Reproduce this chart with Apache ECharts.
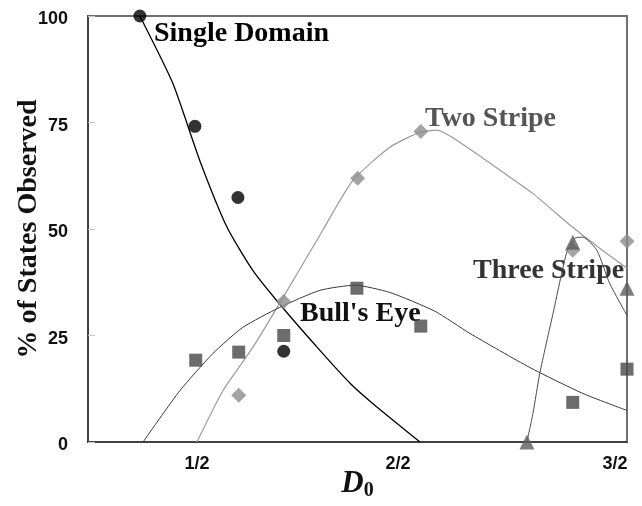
<!DOCTYPE html>
<html>
<head>
<meta charset="utf-8">
<script src="https://cdn.jsdelivr.net/npm/echarts@6/dist/echarts.min.js"></script>
<style>
  html, body { margin: 0; padding: 0; background: #fff; }
  #chart { width: 642px; height: 506px; }
</style>
</head>
<body>
<div id="chart"></div>
<script>
// x tick positions (D0 scale) and their labels
const xTickValues = [0.5, 1.0, 1.54];
const xTickLabels = ['1/2', '2/2', '3/2'];

// measured points, [D0, % of states]
const singleDomainPts = [[0.358, 100], [0.495, 74.1], [0.602, 57.4], [0.716, 21.3]];
const twoStripePts = [[0.604, 11.0], [0.716, 33.0], [0.900, 61.9], [1.057, 72.9], [1.435, 45.0], [1.570, 47.1]];
const bullsEyePts = [[0.497, 19.2], [0.604, 21.1], [0.716, 25.0], [0.898, 36.1], [1.057, 27.2], [1.435, 9.3], [1.570, 17.1]];
const threeStripePts = [[1.321, 0], [1.435, 46.9], [1.570, 36.1]];

// fitted curves drawn in the figure
const singleDomainFit = [[0.358, 100], [0.440, 84.2], [0.507, 66.1], [0.575, 50.4], [0.639, 40.3], [0.711, 31.8],
  [0.806, 21.5], [0.881, 13.8], [0.938, 9.0], [1.055, 0]];
const twoStripeFit = [[0.5, 0], [0.565, 12.1], [0.639, 22.2], [0.706, 32.6], [0.813, 49.7], [0.888, 61.4],
  [0.980, 69.2], [1.055, 72.7], [1.097, 73.2], [1.172, 69.2], [1.254, 63.8], [1.336, 58.3], [1.435, 50.4],
  [1.502, 45.5], [1.570, 40.8]];
const bullsEyeFit = [[0.366, 0], [0.458, 12.1], [0.540, 20.8], [0.614, 26.9], [0.706, 31.6], [0.806, 35.6],
  [0.893, 36.8], [0.980, 35.1], [1.092, 30.7], [1.179, 25.5], [1.328, 17.5], [1.460, 11.4], [1.570, 7.4]];
const threeStripeFit = [[1.321, 0], [1.336, 6.7], [1.353, 16.1], [1.386, 30.2], [1.420, 44.5], [1.440, 47.8],
  [1.460, 48.1], [1.495, 45.0], [1.527, 37.2], [1.570, 29.7]];

const serif = '"Liberation Serif", "Times New Roman", serif';
const sans = '"Liberation Sans", Arial, sans-serif';

const chart = echarts.init(document.getElementById('chart'));

const fitLine = (name, data, color, width) => ({
  name: name,
  type: 'line',
  data: data,
  smooth: 0.2,
  showSymbol: false,
  symbol: 'none',
  lineStyle: { color: color, width: width },
  z: 2,
  silent: true
});

const points = (name, data, symbol, color, size) => ({
  name: name,
  type: 'scatter',
  data: data,
  symbol: symbol,
  symbolSize: size,
  itemStyle: { color: color },
  clip: false,
  z: 3
});

const label = (text, x, y, color) => ({
  type: 'text',
  left: x,
  top: y,
  style: { text: text, fill: color, font: 'bold 28px ' + serif }
});

const option = {
  animation: false,
  grid: {
    left: 88, right: 15, top: 16, bottom: 64,
    outerBoundsMode: 'none',
    containLabel: false,
    show: true, borderColor: '#707070', borderWidth: 2
  },
  xAxis: {
    type: 'value',
    min: 0.229,
    max: 1.57,
    splitLine: { show: false },
    axisLine: { lineStyle: { color: '#333', width: 1.5 } },
    axisTick: { show: false },
    axisLabel: {
      customValues: xTickValues,
      formatter: v => xTickLabels[xTickValues.indexOf(v)] || '',
      color: '#111',
      fontFamily: sans,
      fontWeight: 'bold',
      fontSize: 18,
      margin: 13
    },
    name: '{d|D}{s|0}',
    nameLocation: 'middle',
    nameGap: 25,
    nameMoveOverlap: false,
    nameTextStyle: {
      rich: {
        d: { fontFamily: serif, fontStyle: 'italic', fontWeight: 'bold', fontSize: 31, color: '#111' },
        s: { fontFamily: serif, fontWeight: 'bold', fontSize: 20, color: '#111', padding: [14, 0, 0, 0] }
      }
    }
  },
  yAxis: {
    type: 'value',
    min: 0,
    max: 100,
    interval: 25,
    splitLine: { show: false },
    axisLine: { show: true, lineStyle: { color: '#333', width: 1.5 } },
    axisTick: { show: true, inside: true, length: 7, lineStyle: { color: '#c8c8c8' } },
    axisLabel: {
      formatter: v => '{v|' + v + '}',
      margin: 20,
      rich: {
        v: { color: '#111', fontFamily: sans, fontWeight: 'bold', fontSize: 18, padding: [7, 0, 0, 0] }
      }
    },
    name: '% of States Observed',
    nameLocation: 'middle',
    nameRotate: 90,
    nameGap: 45,
    nameMoveOverlap: false,
    nameTextStyle: { fontFamily: serif, fontWeight: 'bold', fontSize: 28, color: '#111' }
  },
  graphic: [
    label('Single Domain', 154, 20, '#000'),
    label('Two Stripe', 425, 105, '#555'),
    label('Three Stripe', 473, 257, '#333'),
    label("Bull's Eye", 300, 300, '#111')
  ],
  series: [
    fitLine('Single Domain fit', singleDomainFit, '#000', 1.3),
    fitLine('Two Stripe fit', twoStripeFit, '#9a9a9a', 1.2),
    fitLine("Bull's Eye fit", bullsEyeFit, '#3a3a3a', 1),
    fitLine('Three Stripe fit', threeStripeFit, '#4a4a4a', 1),
    points('Single Domain', singleDomainPts, 'circle', '#000', 13),
    points('Two Stripe', twoStripePts, 'diamond', '#8c8c8c', 15),
    points("Bull's Eye", bullsEyePts, 'rect', '#474747', 13),
    points('Three Stripe', threeStripePts, 'triangle', '#5c5c5c', 15)
  ]
};

chart.setOption(option);
</script>
</body>
</html>
